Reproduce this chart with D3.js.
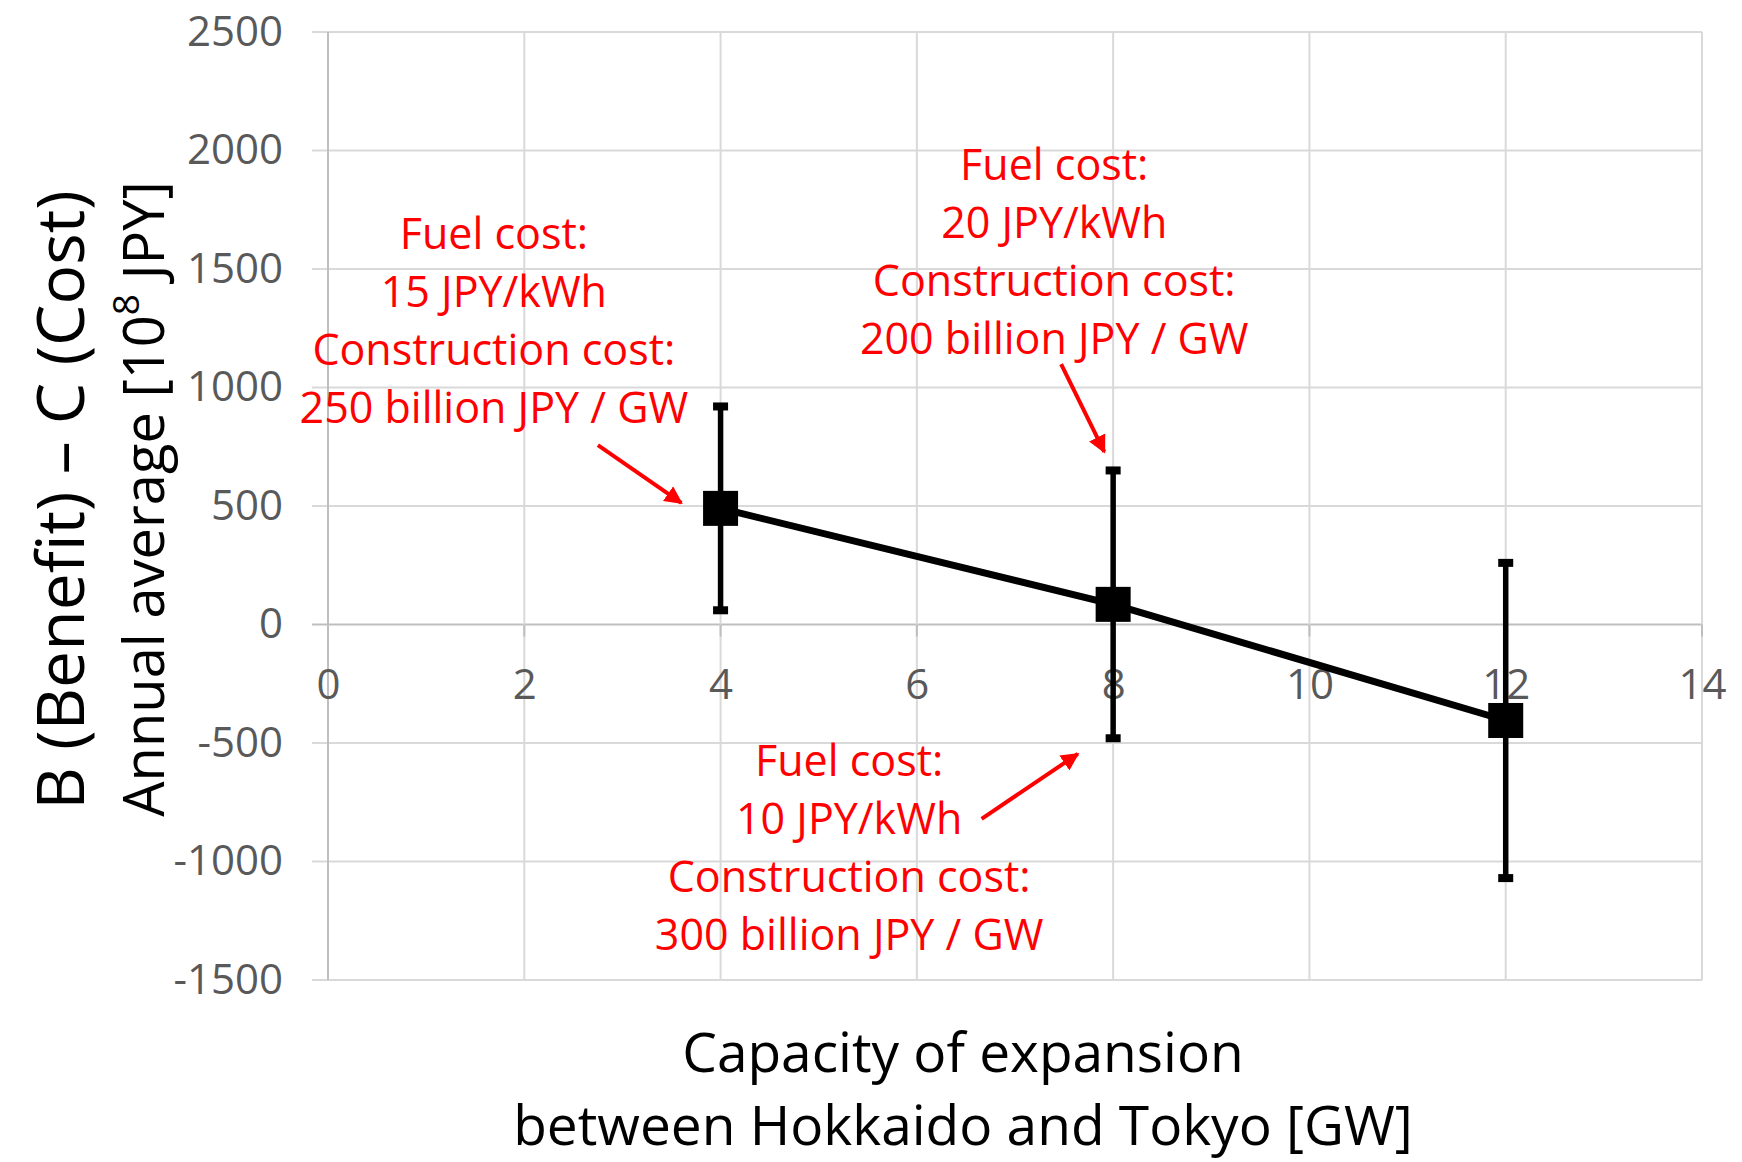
<!DOCTYPE html>
<html>
<head>
<meta charset="utf-8">
<script src="https://cdn.jsdelivr.net/npm/d3@7"></script>
<style>
  body { margin: 0; background: #fff; }
  svg { display: block; }
</style>
</head>
<body>
<div id="chart"></div>
<script>
// values
var capacity = [4, 8, 12]
var meanValue = [490, 85, -405]
var upperValue = [920, 650, 260]
var lowerValue = [60, -480, -1070]

var xTicks = [0, 2, 4, 6, 8, 10, 12, 14]
var yTicks = [-1500, -1000, -500, 0, 500, 1000, 1500, 2000, 2500]

var notes = [
  ['Fuel cost:', '15 JPY/kWh', 'Construction cost:', '250 billion JPY / GW'],
  ['Fuel cost:', '20 JPY/kWh', 'Construction cost:', '200 billion JPY / GW'],
  ['Fuel cost:', '10 JPY/kWh', 'Construction cost:', '300 billion JPY / GW']
]
// note anchors (data units) and arrows from -> to (data units)
var noteX = [1.69, 7.40, 5.31]
var noteY = [1648, 1937, -576]
var arrowFrom = [[2.75, 757], [7.47, 1099], [6.66, -820]]
var arrowTo = [[3.60, 513], [7.91, 728], [7.64, -546]]

var width = 1742
var height = 1162
var margin = { top: 32, left: 328, right: 40, bottom: 182 }

var svg = d3
  .select('#chart')
  .append('svg')
  .attr('width', width)
  .attr('height', height)

svg.append('rect').attr('width', width).attr('height', height).attr('fill', '#fff')

var x = d3.scaleLinear().domain([0, 14]).range([margin.left, width - margin.right])
var y = d3.scaleLinear().domain([-1500, 2500]).range([height - margin.bottom, margin.top])

var font = "'Open Sans', 'Noto Sans', sans-serif"

// grid
svg
  .selectAll('.hgrid')
  .data(yTicks)
  .enter()
  .append('line')
  .attr('x1', x(0) - 16)
  .attr('x2', x(14))
  .attr('y1', d => y(d))
  .attr('y2', d => y(d))
  .attr('stroke', d => (d === 0 ? '#bfbfbf' : '#d9d9d9'))
  .attr('stroke-width', 2)

svg
  .selectAll('.vgrid')
  .data(xTicks)
  .enter()
  .append('line')
  .attr('x1', d => x(d))
  .attr('x2', d => x(d))
  .attr('y1', y(2500))
  .attr('y2', y(-1500))
  .attr('stroke', d => (d === 0 ? '#bfbfbf' : '#d9d9d9'))
  .attr('stroke-width', 2)

// little tick marks under the zero line
svg
  .selectAll('.xtickmark')
  .data(xTicks)
  .enter()
  .append('line')
  .attr('x1', d => x(d))
  .attr('x2', d => x(d))
  .attr('y1', y(0))
  .attr('y2', y(0) + 12)
  .attr('stroke', '#bfbfbf')
  .attr('stroke-width', 2)

// axes labels
var yAxis = svg
  .append('g')
  .attr('transform', 'translate(' + x(0) + ',0)')
  .call(d3.axisLeft(y).tickValues(yTicks).tickFormat(d => String(d)).tickSize(0).tickPadding(45))
yAxis.select('.domain').remove()
yAxis.selectAll('text').attr('font-family', font).attr('font-size', 42).attr('fill', '#595959')

var xAxis = svg
  .append('g')
  .attr('transform', 'translate(0,' + y(0) + ')')
  .call(d3.axisBottom(x).tickValues(xTicks).tickFormat(d => String(d)).tickSize(0).tickPadding(45))
xAxis.select('.domain').remove()
xAxis.selectAll('text').attr('font-family', font).attr('font-size', 42).attr('fill', '#595959')

// error bars
var points = capacity.map((c, i) => ({ x: c, y: meanValue[i], hi: upperValue[i], lo: lowerValue[i] }))

svg
  .selectAll('.err')
  .data(points)
  .enter()
  .append('line')
  .attr('x1', d => x(d.x))
  .attr('x2', d => x(d.x))
  .attr('y1', d => y(d.hi))
  .attr('y2', d => y(d.lo))
  .attr('stroke', '#000')
  .attr('stroke-width', 5.5)

var caps = []
points.forEach(d => {
  caps.push({ x: d.x, v: d.hi })
  caps.push({ x: d.x, v: d.lo })
})
svg
  .selectAll('.cap')
  .data(caps)
  .enter()
  .append('rect')
  .attr('x', d => x(d.x) - 7.5)
  .attr('y', d => y(d.v) - 4)
  .attr('width', 15)
  .attr('height', 8)
  .attr('fill', '#000')

// line
var line = d3
  .line()
  .x(d => x(d.x))
  .y(d => y(d.y))

svg
  .append('path')
  .datum(points)
  .attr('d', line)
  .attr('fill', 'none')
  .attr('stroke', '#000')
  .attr('stroke-width', 7)

svg
  .selectAll('.marker')
  .data(points)
  .enter()
  .append('rect')
  .attr('x', d => x(d.x) - 17.5)
  .attr('y', d => y(d.y) - 17.5)
  .attr('width', 35)
  .attr('height', 35)
  .attr('fill', '#000')

// annotations
svg
  .append('defs')
  .append('marker')
  .attr('id', 'head')
  .attr('viewBox', '0 0 10 10')
  .attr('refX', 9)
  .attr('refY', 5)
  .attr('markerWidth', 4.5)
  .attr('markerHeight', 4.5)
  .attr('orient', 'auto')
  .append('path')
  .attr('d', 'M0,0L10,5L0,10z')
  .attr('fill', '#ff0000')

svg
  .selectAll('.arrow')
  .data(arrowFrom)
  .enter()
  .append('line')
  .attr('x1', d => x(d[0]))
  .attr('y1', d => y(d[1]))
  .attr('x2', (d, i) => x(arrowTo[i][0]))
  .attr('y2', (d, i) => y(arrowTo[i][1]))
  .attr('stroke', '#ff0000')
  .attr('stroke-width', 4)
  .attr('marker-end', 'url(#head)')

notes.forEach((lines, i) => {
  var t = svg
    .append('text')
    .attr('x', x(noteX[i]))
    .attr('y', y(noteY[i]))
    .attr('text-anchor', 'middle')
    .attr('font-family', font)
    .attr('font-size', 43)
    .attr('fill', '#ff0000')
  lines.forEach((s, j) => {
    t.append('tspan')
      .attr('x', x(noteX[i]))
      .attr('dy', j === 0 ? '0.35em' : 58)
      .text(s)
  })
})

// axis titles
svg
  .append('text')
  .attr('transform', 'translate(61,' + 500 + ') rotate(-90)')
  .attr('text-anchor', 'middle')
  .attr('dy', '0.35em')
  .attr('font-family', font)
  .attr('font-size', 66)
  .attr('fill', '#000')
  .text('B (Benefit) \u2013 C (Cost)')

var yTitle2 = svg
  .append('text')
  .attr('transform', 'translate(144,' + 499 + ') rotate(-90)')
  .attr('text-anchor', 'middle')
  .attr('dy', '0.35em')
  .attr('font-family', font)
  .attr('font-size', 56)
  .attr('fill', '#000')
yTitle2.append('tspan').text('Annual average [10')
yTitle2.append('tspan').attr('baseline-shift', 'super').attr('font-size', 37).text('8')
yTitle2.append('tspan').text(' JPY]')

svg
  .append('text')
  .attr('x', 963)
  .attr('y', 1053)
  .attr('dy', '0.35em')
  .attr('text-anchor', 'middle')
  .attr('font-family', font)
  .attr('font-size', 55)
  .attr('fill', '#000')
  .text('Capacity of expansion')

svg
  .append('text')
  .attr('x', 963)
  .attr('y', 1126)
  .attr('dy', '0.35em')
  .attr('text-anchor', 'middle')
  .attr('font-family', font)
  .attr('font-size', 55)
  .attr('fill', '#000')
  .text('between Hokkaido and Tokyo [GW]')
</script>
</body>
</html>
